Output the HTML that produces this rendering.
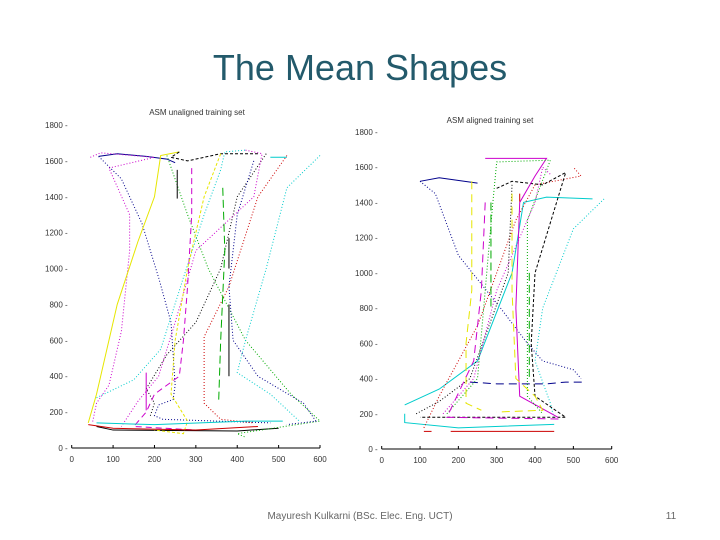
<!DOCTYPE html>
<html><head><meta charset="utf-8">
<style>
body{margin:0;background:#fff;width:720px;height:540px;overflow:hidden;font-family:"Liberation Sans",sans-serif;}
svg{position:absolute;left:0;top:0}
</style></head>
<body>
<svg id="s" width="720" height="540">
<text x="360" y="80" text-anchor="middle" font-size="36" fill="#235a6b">The Mean Shapes</text>
<text x="360" y="519" text-anchor="middle" font-size="10" fill="#666">Mayuresh Kulkarni (BSc. Elec. Eng. UCT)</text>
<text x="671" y="519" text-anchor="middle" font-size="10" fill="#666">11</text>
<text x="197" y="115" text-anchor="middle" font-size="8" fill="#333">ASM unaligned training set</text>
<text x="490" y="123" text-anchor="middle" font-size="8" fill="#333">ASM aligned training set</text>
<g id="L"></g>
<g id="R"></g>
</svg>
<script>
const xTicks=[0,100,200,300,400,500,600];
const yTicks=[0,200,400,600,800,1000,1200,1400,1600,1800];
const leftSeries=[
{c:'#00008b',d:'1,2',p:[[65,1625],[120,1500],[170,1250],[210,950],[240,700],[250,350],[245,270],[210,240],[200,180],[220,160],[480,140]]},
{c:'#00008b',d:'',p:[[65,1625],[110,1640],[180,1625],[230,1610],[250,1590]]},
{c:'#cc00cc',d:'1,2',p:[[45,1620],[70,1645],[200,1620],[90,1560],[140,1300],[140,1100],[120,650],[90,350],[60,250],[50,140]]},
{c:'#e6e600',d:'',p:[[40,140],[60,300],[110,800],[160,1150],[200,1400],[215,1630],[260,1650]]},
{c:'#00cccc',d:'1,2',p:[[60,280],[150,380],[215,550],[270,950],[320,1300],[360,1550],[370,1650],[420,1660]]},
{c:'#000',d:'',p:[[60,120],[100,100],[400,95],[500,110]]},
{c:'#000',d:'3,2',p:[[260,1650],[240,1620],[280,1600],[360,1640],[450,1640]]},
{c:'#000',d:'1,2',p:[[470,1640],[400,1400],[360,1000],[300,700],[230,520],[180,330],[200,250],[190,180]]},
{c:'#cc0000',d:'1,2',p:[[520,1630],[450,1400],[380,900],[320,620],[320,250],[360,160],[440,140]]},
{c:'#00aa00',d:'1,2',p:[[230,1630],[280,1300],[330,1000],[420,600],[530,300],[600,150],[400,80],[420,60]]},
{c:'#00cccc',d:'1,2',p:[[600,1630],[520,1450],[470,1000],[420,600],[400,420],[480,300],[550,150]]},
{c:'#cc00cc',d:'6,4',p:[[290,1560],[290,1300],[280,900],[270,600],[260,400],[200,300],[180,200],[150,120],[300,100]]},
{c:'#00008b',d:'1,2',p:[[440,1600],[400,1300],[380,900],[390,600],[450,400],[560,250],[590,150],[520,130]]},
{c:'#cc00cc',d:'1,2',p:[[420,1660],[460,1640],[440,1400],[300,1100],[250,700],[210,400],[160,260],[120,120]]},
{c:'#e6e600',d:'3,2',p:[[360,1640],[320,1400],[280,1000],[250,600],[240,300],[280,150],[270,80],[200,100]]},
{c:'#00aa00',d:'8,4',p:[[365,1450],[370,1100],[360,600],[355,250]]},
{c:'#000',d:'',p:[[380,1170],[380,1000]]},
{c:'#000',d:'',p:[[380,800],[380,400]]},
{c:'#000',d:'',p:[[255,1550],[255,1390]]},
{c:'#cc00cc',d:'',p:[[180,420],[180,210]]},
{c:'#cc0000',d:'',p:[[40,130],[100,110],[300,100],[450,120]]},
{c:'#00cccc',d:'',p:[[60,140],[200,130],[420,150],[510,150]]},
{c:'#00cccc',d:'',p:[[480,1620],[520,1620]]}
];
const rightSeries=[
{c:'#00008b',d:'1,2',p:[[100,1520],[140,1450],[200,1100],[310,800],[380,600],[420,500],[500,450],[520,400]]},
{c:'#00008b',d:'',p:[[100,1520],[150,1540],[250,1510]]},
{c:'#00008b',d:'8,5',p:[[230,380],[300,370],[430,370],[480,380],[530,380]]},
{c:'#00cccc',d:'',p:[[60,250],[150,340],[250,500],[340,1000],[370,1400],[430,1430],[550,1420]]},
{c:'#00cccc',d:'1,2',p:[[580,1420],[500,1250],[420,800],[400,500],[440,260],[450,170]]},
{c:'#00cccc',d:'',p:[[60,200],[60,150],[200,120],[450,140]]},
{c:'#cc0000',d:'',p:[[110,100],[130,100]]},
{c:'#cc0000',d:'',p:[[180,100],[450,100]]},
{c:'#cc0000',d:'1,2',p:[[110,120],[150,300],[250,700],[350,1300],[400,1500],[520,1550],[500,1600]]},
{c:'#000',d:'1,2',p:[[90,200],[150,270],[230,400],[330,1000],[340,1500]]},
{c:'#000',d:'3,2',p:[[300,1480],[340,1520],[420,1500],[480,1570],[400,1000],[390,600],[400,300],[480,180],[100,180]]},
{c:'#cc00cc',d:'1,2',p:[[160,200],[240,400],[300,900],[400,1400],[420,1600],[440,1560]]},
{c:'#cc00cc',d:'',p:[[270,1650],[360,1650],[430,1650],[400,1550],[360,1400],[350,800],[360,300],[460,180]]},
{c:'#00aa00',d:'1,2',p:[[170,200],[250,400],[290,1400],[300,1630],[440,1640],[380,1300],[380,800],[380,300],[420,200]]},
{c:'#00aa00',d:'8,4',p:[[285,1400],[285,800]]},
{c:'#00aa00',d:'8,4',p:[[385,1000],[385,400]]},
{c:'#e6e600',d:'8,5',p:[[235,1520],[235,900],[220,600],[220,400],[220,260],[260,220]]},
{c:'#e6e600',d:'8,5',p:[[340,1450],[340,900],[350,400],[400,300],[420,220],[300,210]]},
{c:'#cc00cc',d:'8,5',p:[[270,1400],[260,900],[240,500],[170,180],[470,170]]},
{c:'#cc0000',d:'8,5',p:[[360,1450],[360,1400]]}
];
const NS='http://www.w3.org/2000/svg';
function mk(t,a,par){const e=document.createElementNS(NS,t);for(const k in a)e.setAttribute(k,a[k]);par.appendChild(e);return e;}
function draw(gid,x0,x1,y0,y1,series,yLbl){
  const g=document.getElementById(gid);
  const X=v=>x0+v*(x1-x0)/600, Y=v=>y0-v*(y0-y1)/1800;
  const ax=mk('line',{x1:X(0),x2:X(600),y1:y0,y2:y0,stroke:'#000','stroke-width':1},g);
  
  
  xTicks.forEach(v=>{
    const t=mk('line',{x1:X(v),x2:X(v),y1:y0,y2:y0-3,stroke:'#000'},g);
    
    
    const l=mk('text',{x:X(v),y:y0+14,'text-anchor':'middle','font-size':8,fill:'#333'},g);
    l.textContent=v;
    
    
  });
  yTicks.forEach(v=>{
    const l=mk('text',{x:x0-4+yLbl,y:Y(v)+3,'text-anchor':'end','font-size':8,fill:'#333'},g);
    l.textContent=v+' -';
    
    
  });
  series.forEach(s=>{
    const p=mk('polyline',{points:s.p.map(q=>X(q[0])+','+Y(q[1])).join(' '),fill:'none',stroke:s.c,'stroke-width':1,'stroke-dasharray':s.d},g);
    
    
  });
}
draw('L',71.7,320,448,125,leftSeries,0);
draw('R',381.7,611.7,449,132,rightSeries,0);
</script>
</body></html>
